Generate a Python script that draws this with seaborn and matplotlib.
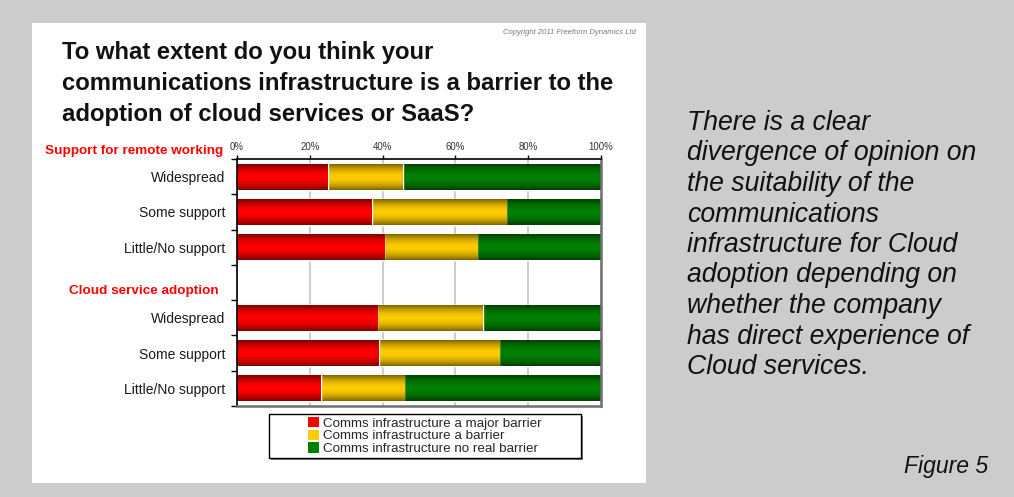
import numpy as np
import pandas as pd
import matplotlib
matplotlib.use("Agg")
import matplotlib.pyplot as plt
import seaborn as sns
from matplotlib.patches import Rectangle, Patch
from matplotlib.transforms import blended_transform_factory
from matplotlib.colors import to_rgb

# ---------------- data ----------------
row_labels = ["Widespread", "Some support", "Little/No support",
              "Widespread", "Some support", "Little/No support"]
row_ids = ["r0", "r1", "r2", "r4", "r5", "r6"]
slot_order = ["r0", "r1", "r2", "gap", "r4", "r5", "r6"]
major_barrier = [25, 37, 40.5, 38.5, 39, 23]
a_barrier = [20.5, 37, 25.5, 29, 33, 23]
no_real_barrier = [54.5, 26, 34, 32.5, 28, 54]
group_headers = ["Support for remote working", "Cloud service adoption"]
series_names = ["Comms infrastructure a major barrier",
                "Comms infrastructure a barrier",
                "Comms infrastructure no real barrier"]
series_colors = ["#ff0000", "#ffcc00", "#008000"]
x_ticks = [0, 20, 40, 60, 80, 100]
x_tick_labels = ["0%", "20%", "40%", "60%", "80%", "100%"]

title = ("To what extent do you think your\n"
         "communications infrastructure is a barrier to the\n"
         "adoption of cloud services or SaaS?")
side_text = ("There is a clear\n"
             "divergence of opinion on\n"
             "the suitability of the\n"
             "communications\n"
             "infrastructure for Cloud\n"
             "adoption depending on\n"
             "whether the company\n"
             "has direct experience of\n"
             "Cloud services.")

df = pd.DataFrame({"row": row_ids, "major": major_barrier,
                   "barrier": a_barrier, "none": no_real_barrier})
df["cum_red"] = df["major"]
df["cum_yellow"] = df["major"] + df["barrier"]
df["cum_green"] = df["cum_yellow"] + df["none"]

# ---------------- figure ----------------
W, H = 1014, 497
fig = plt.figure(figsize=(W / 100, H / 100), dpi=100)
fig.patch.set_facecolor("#cccccc")

def fx(px):
    return px / W

def fy(py):
    return 1 - py / H

# white panel
fig.add_artist(Rectangle((fx(32), fy(483)), fx(646) - fx(32), fy(23) - fy(483),
                         transform=fig.transFigure, facecolor="white",
                         edgecolor="none", zorder=0))

ax = fig.add_axes([fx(237), fy(406), fx(601) - fx(237), fy(159) - fy(406)])
ax.set_facecolor("white")
sns.set_style("white")

layers = [("cum_green", series_colors[2]),
          ("cum_yellow", series_colors[1]),
          ("cum_red", series_colors[0])]
layer_patches = []
for col, c in layers:
    n0 = len(ax.patches)
    sns.barplot(data=df, x=col, y="row", order=slot_order, orient="h",
                color=c, saturation=1, width=0.73, ax=ax, errorbar=None)
    layer_patches.append((ax.patches[n0:], c))

# gradient shading clipped to each bar
t = np.linspace(0, 1, 64)
shade = 0.5 + 0.5 * (1 - np.abs(2 * t - 1) ** 1.8)
for li, (patches, c) in enumerate(layer_patches):
    rgb = np.array(to_rgb(c))
    grad = shade[:, None, None] * rgb[None, None, :]
    for p in patches:
        x0, y0 = p.get_x(), p.get_y()
        w, h = p.get_width(), p.get_height()
        if not np.isfinite(w) or w == 0:
            continue
        p.set_zorder(1 + li * 0.1)
        im = ax.imshow(grad, extent=(x0, x0 + w, y0 + h, y0), aspect="auto",
                       interpolation="bilinear", zorder=1.05 + li * 0.1)
        im.set_clip_path(p)

ax.set_xlim(0, 100)
ax.set_ylim(6.5, -0.5)
ax.set_xlabel("")
ax.set_ylabel("")

# x axis on top
ax.xaxis.tick_top()
ax.set_xticks(x_ticks)
ax.set_xticklabels(x_tick_labels, fontsize=6.9, color="#333333",
                   family="Liberation Sans")
ax.tick_params(axis="x", direction="out", length=3, width=1, pad=2, color="black")
ax.grid(axis="x", color="#c8c8c8", linewidth=1.3, zorder=0)
ax.set_axisbelow(True)

# y axis labels and boundary ticks
ylabels = []
for s in slot_order:
    if s == "gap":
        ylabels.append("")
    else:
        ylabels.append(row_labels[row_ids.index(s)])
ax.set_yticks(range(len(slot_order)))
ax.set_yticklabels(ylabels, fontsize=10, color="#1a1a1a", family="Liberation Sans")
ax.tick_params(axis="y", which="major", length=0, pad=8.5)
ax.set_yticks(np.arange(-0.5, len(slot_order), 1.0), minor=True)
ax.tick_params(axis="y", which="minor", length=4, width=1, color="black",
               direction="out", left=True)

for side in ["left", "top"]:
    ax.spines[side].set_color("black")
    ax.spines[side].set_linewidth(1.2)
for side in ["right", "bottom"]:
    ax.spines[side].set_color("#707070")
    ax.spines[side].set_linewidth(1.8)

# group headers
btr = blended_transform_factory(ax.transAxes, ax.transData)
ax.text((223 - 237) / 364, -0.72, group_headers[0], transform=btr, ha="right",
        va="center", color="#ff0000", fontsize=9.7, fontweight="bold",
        family="Liberation Sans")
ax.text((219 - 237) / 364, 3.25, group_headers[1], transform=btr, ha="right",
        va="center", color="#ff0000", fontsize=9.7, fontweight="bold",
        family="Liberation Sans")

# legend box with shadow
lx0, ly0, lx1, ly1 = 269, 414, 581, 458
fig.add_artist(Rectangle((fx(lx0 + 2), fy(ly1 + 2)), fx(lx1) - fx(lx0), fy(ly0) - fy(ly1),
                         transform=fig.transFigure, facecolor="#808080",
                         edgecolor="none", zorder=1))
fig.add_artist(Rectangle((fx(lx0), fy(ly1)), fx(lx1) - fx(lx0), fy(ly0) - fy(ly1),
                         transform=fig.transFigure, facecolor="white",
                         edgecolor="black", linewidth=1.0, zorder=2))
handles = [Patch(facecolor=c, edgecolor="none") for c in series_colors]
leg = fig.legend(handles, series_names, loc="center left",
                 bbox_to_anchor=(fx(308), fy(436)), frameon=False,
                 handlelength=0.8, handleheight=0.8,
                 handletextpad=0.3, labelspacing=0.0, borderpad=0,
                 borderaxespad=0,
                 prop={"family": "Liberation Sans", "size": 9.6})
leg.set_zorder(3)

# title and annotations
fig.text(fx(62), fy(41), title, ha="left", va="top", fontsize=17.2,
         fontweight="bold", family="Liberation Sans", color="#111111",
         linespacing=1.45)
fig.text(fx(636), fy(32), "Copyright 2011 Freeform Dynamics Ltd", ha="right",
         va="center", fontsize=5.5, style="italic", color="#777777",
         family="Liberation Sans")
fig.text(fx(687), fy(110), side_text, ha="left", va="top", fontsize=19.2,
         style="italic", family="Liberation Sans", color="#111111",
         linespacing=1.225)
fig.text(fx(988), fy(467), "Figure 5", ha="right", va="center", fontsize=16.6,
         style="italic", family="Liberation Sans", color="#111111")

fig.savefig("out.png", dpi=100, facecolor=fig.get_facecolor())
